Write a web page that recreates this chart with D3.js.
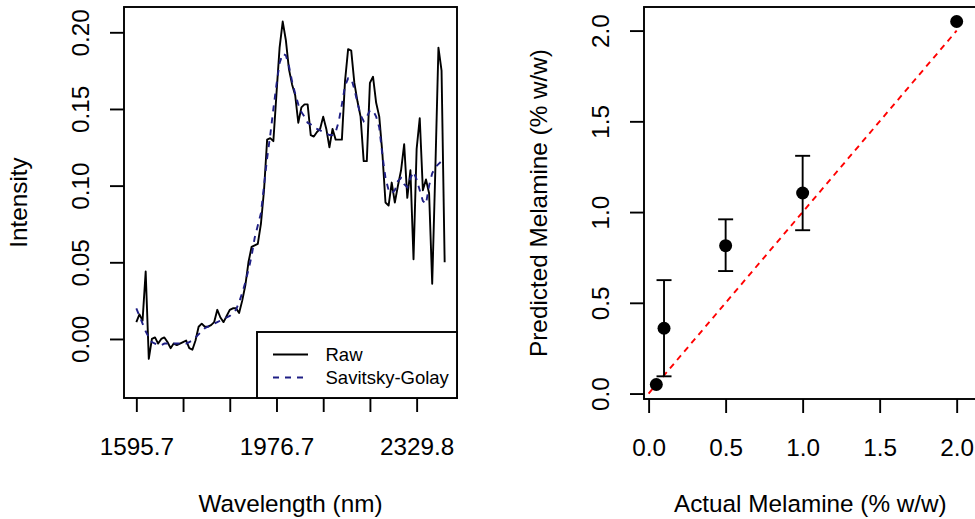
<!DOCTYPE html>
<html>
<head>
<meta charset="utf-8">
<script src="https://cdn.jsdelivr.net/npm/d3@7"></script>
<style>
body{margin:0;background:#fff;}
svg text{font-family:"Liberation Sans",Arial,Helvetica,sans-serif;fill:#000;}
</style>
</head>
<body>
<svg id="chart" width="975" height="519"></svg>
<script>
// spectrum (index 1..100)
var rawIntensity = [0.011,0.016,0.012,0.044,-0.013,0.000,0.001,-0.003,0.000,0.001,
	-0.002,-0.006,-0.003,-0.004,-0.003,-0.002,-0.001,-0.006,-0.007,-0.001,
	0.008,0.010,0.008,0.008,0.009,0.011,0.019,0.014,0.011,0.015,
	0.019,0.020,0.020,0.017,0.025,0.035,0.050,0.060,0.061,0.062,
	0.075,0.097,0.130,0.131,0.129,0.160,0.190,0.207,0.195,0.176,
	0.166,0.159,0.141,0.151,0.153,0.153,0.133,0.132,0.135,0.137,
	0.145,0.137,0.125,0.137,0.130,0.130,0.130,0.168,0.189,0.188,
	0.167,0.155,0.145,0.116,0.116,0.167,0.171,0.154,0.145,0.121,
	0.089,0.087,0.102,0.089,0.100,0.110,0.127,0.092,0.110,0.052,
	0.124,0.144,0.097,0.104,0.095,0.036,0.110,0.190,0.175,0.050];
var sgIntensity = [0.020,0.015,0.010,0.005,0.001,-0.002,-0.003,-0.004,-0.004,-0.003,
	-0.003,-0.003,-0.003,-0.003,-0.003,-0.003,-0.003,-0.002,-0.001,0.001,
	0.003,0.005,0.007,0.008,0.009,0.010,0.011,0.012,0.013,0.014,
	0.015,0.017,0.019,0.024,0.030,0.037,0.045,0.054,0.066,0.074,
	0.082,0.100,0.118,0.133,0.150,0.166,0.180,0.186,0.185,0.178,
	0.168,0.160,0.153,0.148,0.145,0.141,0.140,0.138,0.137,0.136,
	0.135,0.134,0.133,0.133,0.135,0.142,0.153,0.165,0.170,0.170,
	0.163,0.154,0.146,0.142,0.145,0.149,0.149,0.145,0.138,0.120,
	0.105,0.097,0.095,0.097,0.103,0.105,0.101,0.099,0.105,0.109,
	0.104,0.097,0.090,0.088,0.100,0.108,0.112,0.114,0.116,0.117];
var waveTickIdx = [1,16,31,46,61,76,91];
var waveTickLabels = ["1595.7","","","1976.7","","","2329.8"];
var intensityTicks = [0,0.05,0.10,0.15,0.20];
var legendNames = ["Raw","Savitsky-Golay"];

// prediction panel
var actual = [0.05,0.1,0.5,1.0,2.0];
var predicted = [0.05,0.36,0.815,1.105,2.05];
var predLow = [0.05,0.095,0.675,0.90,2.05];
var predHigh = [0.05,0.625,0.96,1.31,2.05];
var melTicks = [0,0.5,1,1.5,2];

var svg = d3.select("#chart");
var FONT = 24.3;
var LW = 1.9;
var sgColor = "#1f1f85";

//---------- left panel ----------
var L = {left:124, right:457, top:7, bottom:398};
var xL = d3.scaleLinear().domain([-2.96,103.96]).range([L.left,L.right]);
var yL = d3.scaleLinear().domain([-0.0385,0.2165]).range([L.bottom,L.top]);

var idx = d3.range(1, rawIntensity.length+1);

var lineRaw = d3.line().x(function(d,i){return xL(idx[i]);}).y(function(d){return yL(d);});
svg.append("path").datum(rawIntensity).attr("d",lineRaw)
	.attr("fill","none").attr("stroke","#000").attr("stroke-width",LW).attr("stroke-linejoin","round");
svg.append("path").datum(sgIntensity).attr("d",lineRaw)
	.attr("fill","none").attr("stroke",sgColor).attr("stroke-width",LW).attr("stroke-dasharray","6,6");

// axes
var axB = svg.append("g").attr("transform","translate(0,"+L.bottom+")")
	.call(d3.axisBottom(xL).tickValues(waveTickIdx).tickSize(14).tickPadding(26)
		.tickFormat(function(d,i){return waveTickLabels[i];}));
var axLft = svg.append("g").attr("transform","translate("+L.left+",0)")
	.call(d3.axisLeft(yL).tickValues(intensityTicks).tickSize(14)
		.tickFormat(d3.format(".2f")));

function styleAxis(g, rotate){
	g.select(".domain").remove();
	g.attr("font-size",FONT).attr("font-family",null);
	g.selectAll(".tick line").attr("stroke","#000").attr("stroke-width",LW);
	if(rotate){
		g.selectAll(".tick text").attr("x",null).attr("dy",null).attr("y",null)
			.attr("text-anchor","middle").attr("transform","translate(-35,0) rotate(-90)");
	}
}
styleAxis(axB,false);
styleAxis(axLft,true);

svg.append("rect").attr("x",L.left).attr("y",L.top).attr("width",L.right-L.left).attr("height",L.bottom-L.top)
	.attr("fill","none").attr("stroke","#000").attr("stroke-width",LW);

// legend (bottom right)
var leg = svg.append("g");
leg.append("rect").attr("x",257).attr("y",332).attr("width",L.right-257).attr("height",L.bottom-332)
	.attr("fill","#fff").attr("stroke","#000").attr("stroke-width",LW);
legendNames.forEach(function(name,i){
	var yy = 354.5 + i*23;
	leg.append("line").attr("x1",273).attr("x2",308).attr("y1",yy).attr("y2",yy)
		.attr("stroke", i==0 ? "#000" : sgColor).attr("stroke-width",LW)
		.attr("stroke-dasharray", i==0 ? null : "6,6");
	leg.append("text").attr("x",325.5).attr("y",yy+6.8).attr("font-size",18.5).text(name);
});

svg.append("text").attr("x",(L.left+L.right)/2).attr("y",512).attr("text-anchor","middle")
	.attr("font-size",FONT).text("Wavelength (nm)");
svg.append("text").attr("transform","translate(27,"+(L.top+L.bottom)/2+") rotate(-90)")
	.attr("text-anchor","middle").attr("font-size",FONT).text("Intensity");

//---------- right panel ----------
var R = {left:644, right:976.7, top:7, bottom:399};
var xR = d3.scaleLinear().domain([-0.03,2.13]).range([R.left,R.right]);
var yR = d3.scaleLinear().domain([-0.03,2.13]).range([R.bottom,R.top]);

// 1:1 reference line
svg.append("line").attr("x1",xR(0)).attr("y1",yR(0)).attr("x2",xR(2)).attr("y2",yR(2))
	.attr("stroke","#ff0000").attr("stroke-width",LW).attr("stroke-dasharray","6,5");

// error bars
actual.forEach(function(a,i){
	if(predHigh[i]==predLow[i]) return;
	var g = svg.append("g").attr("stroke","#000").attr("stroke-width",LW);
	g.append("line").attr("x1",xR(a)).attr("x2",xR(a)).attr("y1",yR(predLow[i])).attr("y2",yR(predHigh[i]));
	g.append("line").attr("x1",xR(a)-7.5).attr("x2",xR(a)+7.5).attr("y1",yR(predLow[i])).attr("y2",yR(predLow[i]));
	g.append("line").attr("x1",xR(a)-7.5).attr("x2",xR(a)+7.5).attr("y1",yR(predHigh[i])).attr("y2",yR(predHigh[i]));
});

svg.selectAll("circle.pt").data(actual).enter().append("circle").attr("class","pt")
	.attr("cx",function(d){return xR(d);}).attr("cy",function(d,i){return yR(predicted[i]);})
	.attr("r",6.5).attr("fill","#000");

var axRB = svg.append("g").attr("transform","translate(0,"+R.bottom+")")
	.call(d3.axisBottom(xR).tickValues(melTicks).tickSize(14).tickPadding(26).tickFormat(d3.format(".1f")));
var axRL = svg.append("g").attr("transform","translate("+R.left+",0)")
	.call(d3.axisLeft(yR).tickValues(melTicks).tickSize(14).tickFormat(d3.format(".1f")));
styleAxis(axRB,false);
styleAxis(axRL,true);

svg.append("rect").attr("x",R.left).attr("y",R.top).attr("width",R.right-R.left).attr("height",R.bottom-R.top)
	.attr("fill","none").attr("stroke","#000").attr("stroke-width",LW);

svg.append("text").attr("x",(R.left+R.right)/2).attr("y",512).attr("text-anchor","middle")
	.attr("font-size",FONT).text("Actual Melamine (% w/w)");
svg.append("text").attr("transform","translate(547,"+(R.top+R.bottom)/2+") rotate(-90)")
	.attr("text-anchor","middle").attr("font-size",FONT).text("Predicted Melamine (% w/w)");
</script>
</body>
</html>
